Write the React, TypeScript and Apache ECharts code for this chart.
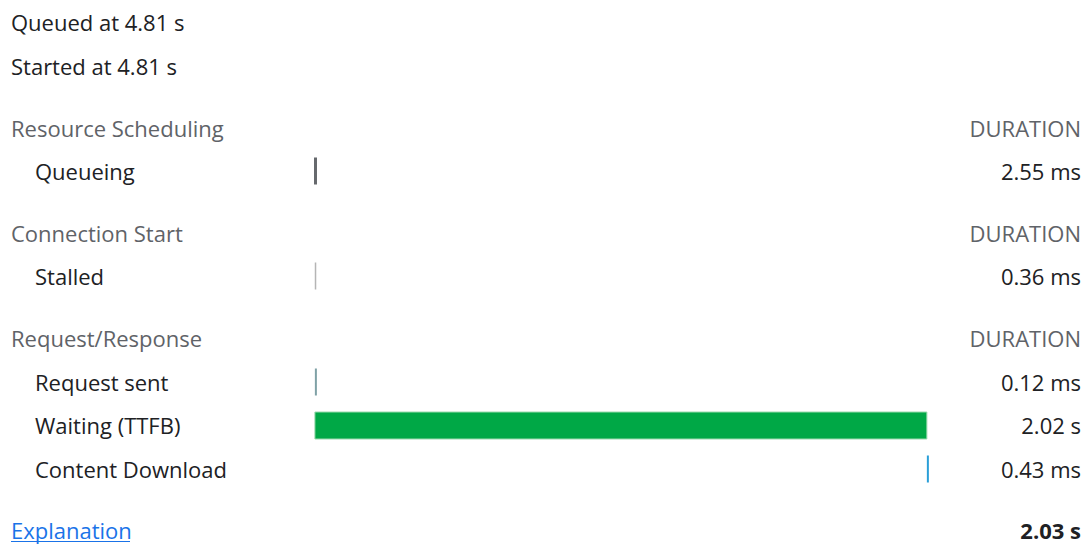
import React, { useEffect, useRef } from "react";
import * as echarts from "echarts";

const summaryLines = ["Queued at 4.81 s", "Started at 4.81 s"];
const sectionTitles = ["Resource Scheduling", "Connection Start", "Request/Response"];
const durationHeader = "DURATION";
const section1Rows = ["Queueing"];
const section2Rows = ["Stalled"];
const section3Rows = ["Request sent", "Waiting (TTFB)", "Content Download"];
// durations in seconds
const section1Durations = [0.00255];
const section2Durations = [0.00036];
const section3Durations = [0.00012, 2.024, 0.00043];
const section1Labels = ["2.55 ms"];
const section2Labels = ["0.36 ms"];
const section3Labels = ["0.12 ms", "2.02 s", "0.43 ms"];
const totalLabel = "2.03 s";
const linkLabel = "Explanation";

const FONT = "'Segoe UI', 'Open Sans', 'Noto Sans', sans-serif";
const FS = 22;
const barColors = ["#66696d", "#b5b5b5", "#7fa1a6", "#00a846", "#2a9fd8"];
const barBorders = [null, null, null, "#9ad9ad", null];
const barMinWidths = [3, 1.5, 2, 2, 2];

export default function App() {
  const ref = useRef<HTMLDivElement>(null);
  useEffect(() => {
    if (!ref.current) return;
    const chart = echarts.init(ref.current, null, { renderer: "svg" });

    const allDur = [...section1Durations, ...section2Durations, ...section3Durations];
    const total = allDur.reduce((a, b) => a + b, 0);
    const starts: number[] = [];
    let acc = 0;
    allDur.forEach((d) => {
      starts.push(acc);
      acc += d;
    });

    const sections = [
      { rows: section1Rows, labels: section1Labels, center: 170.5 },
      { rows: section2Rows, labels: section2Labels, center: 275.5 },
      { rows: section3Rows, labels: section3Labels, center: 381.5 },
    ];
    const band = 43.5;
    const left = 314;
    const width = 613;

    const grids: any[] = [];
    const xAxes: any[] = [];
    const yAxes: any[] = [];
    const series: any[] = [];
    let idx = 0;
    sections.forEach((s, i) => {
      grids.push({ left, width, top: s.center - band / 2, height: band * s.rows.length });
      xAxes.push({ type: "value", gridIndex: i, min: 0, max: total, show: false });
      yAxes.push({
        type: "category",
        gridIndex: i,
        data: s.rows,
        inverse: true,
        position: "left",
        axisLine: { show: false },
        axisTick: { show: false },
        splitLine: { show: false },
        axisLabel: { align: "left", margin: left - 35, color: "#202124", fontSize: FS, fontFamily: FONT },
      });
      yAxes.push({
        type: "category",
        gridIndex: i,
        data: s.labels,
        inverse: true,
        position: "right",
        axisLine: { show: false },
        axisTick: { show: false },
        splitLine: { show: false },
        axisLabel: { align: "right", margin: 1081 - (left + width), color: "#202124", fontSize: FS, fontFamily: FONT },
      });
      const data = s.rows.map((_, j) => {
        const k = idx + j;
        return [starts[k], starts[k] + allDur[k], j, k];
      });
      idx += s.rows.length;
      series.push({
        type: "custom",
        xAxisIndex: i,
        yAxisIndex: i * 2,
        data,
        encode: { x: [0, 1], y: 2 },
        renderItem: (params: any, api: any) => {
          const k = api.value(3);
          const p0 = api.coord([api.value(0), api.value(2)]);
          const p1 = api.coord([api.value(1), api.value(2)]);
          const h = 27;
          const w = Math.max(p1[0] - p0[0], barMinWidths[k]);
          const border = barBorders[k];
          return {
            type: "rect",
            shape: { x: p0[0], y: p0[1] - h / 2 + 0.5, width: w, height: h },
            style: border
              ? { fill: barColors[k], stroke: border, lineWidth: 1 }
              : { fill: barColors[k] },
          };
        },
      });
    });

    const textStyle = (extra: any) => ({
      fontFamily: FONT,
      fontSize: FS,
      lineHeight: 22,
      verticalAlign: "middle",
      ...extra,
    });
    const graphic: any[] = [];
    summaryLines.forEach((t, i) => {
      graphic.push({
        type: "text",
        x: 11,
        y: [21.5, 65.5][i],
        style: textStyle({ text: t, fill: "#202124" }),
      });
    });
    sectionTitles.forEach((t, i) => {
      const y = [127.5, 232.5, 337.5][i];
      graphic.push({ type: "text", x: 11, y, style: textStyle({ text: t, fill: "#5f6368" }) });
      graphic.push({
        type: "text",
        x: 1081,
        y,
        style: textStyle({ text: durationHeader, fill: "#5f6368", align: "right" }),
      });
    });
    graphic.push({
      type: "text",
      x: 11,
      y: 530,
      style: textStyle({ text: linkLabel, fill: "#1a73e8" }),
    });
    graphic.push({
      type: "rect",
      shape: { x: 11, y: 541, width: 119, height: 1 },
      style: { fill: "#1a73e8" },
    });
    graphic.push({
      type: "text",
      x: 1081,
      y: 530,
      style: textStyle({ text: totalLabel, fill: "#202124", align: "right", fontWeight: "bold" }),
    });

    chart.setOption({
      animation: false,
      backgroundColor: "#ffffff",
      grid: grids,
      xAxis: xAxes,
      yAxis: yAxes,
      series,
      graphic,
    });
    return () => chart.dispose();
  }, []);
  return <div ref={ref} style={{ position: "fixed", left: 0, top: 0, width: 1089, height: 544 }} />;
}
